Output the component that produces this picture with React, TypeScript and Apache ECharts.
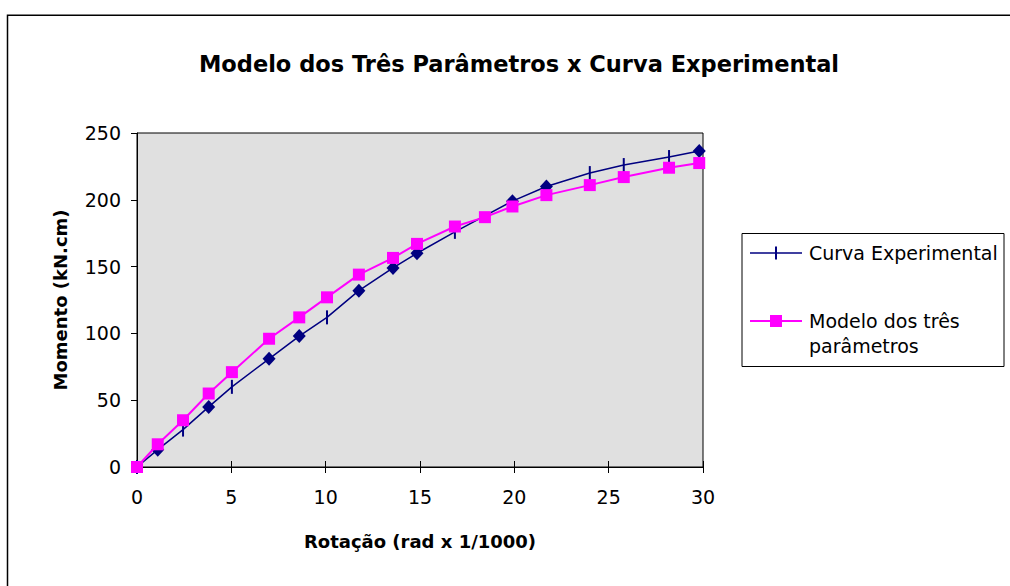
import React, { useEffect, useRef } from "react";
import * as echarts from "echarts";

const title = "Modelo dos Três Parâmetros x Curva Experimental";
const xName = "Rotação (rad x 1/1000)";
const yName = "Momento (kN.cm)";
const expName = "Curva Experimental";
const modelName = "Modelo dos três parâmetros";

// Curva Experimental
const expX = [0, 1.1, 2.44, 3.8, 5.03, 7.0, 8.6, 10.07, 11.76, 13.57, 14.84, 16.85, 19.9, 21.7, 24.0, 25.8, 28.2, 29.8];
const expY = [0, 13, 28, 45, 60, 81, 98, 112, 132, 149, 160, 176, 199, 210, 220, 226, 232, 236.5];
// marker kind per point: d = diamond, t = vertical tick
const expMarker = ["t", "d", "t", "d", "t", "d", "d", "t", "d", "d", "d", "t", "d", "d", "t", "t", "t", "d"];

// Modelo dos três parâmetros
const modelX = [0, 1.1, 2.44, 3.8, 5.03, 7.0, 8.6, 10.07, 11.76, 13.57, 14.84, 16.85, 18.44, 19.9, 21.7, 24.0, 25.8, 28.2, 29.8];
const modelY = [0, 17, 35, 55, 71, 96, 112, 127, 144, 156.5, 167, 180, 187, 195, 203.5, 211, 217, 224, 227.5];

const NAVY = "#000080";
const MAGENTA = "#FF00FF";
const FONT = "'DejaVu Sans', sans-serif";
const TICK_PATH = "path://M0,0h2v12h-2z";

export default function App() {
  const ref = useRef<HTMLDivElement>(null);
  useEffect(() => {
    if (!ref.current) return;
    const chart = echarts.init(ref.current, null, { renderer: "svg" });
    const expData = expX.map((x, i) => [x, expY[i]]);
    const modelData = modelX.map((x, i) => [x, modelY[i]]);
    chart.setOption({
      animation: false,
      backgroundColor: "#fff",
      textStyle: { fontFamily: FONT },
      title: {
        text: title,
        left: 514,
        top: 47,
        textAlign: "center",
        textStyle: { fontSize: 22.5, fontWeight: "bold", color: "#000", fontFamily: FONT },
      },
      grid: {
        left: 137,
        top: 133,
        width: 566,
        height: 334,
        show: true,
        backgroundColor: "#E0E0E0",
        borderColor: "#000",
        borderWidth: 1,
      },
      xAxis: [
        {
          type: "value",
          min: 0,
          max: 30,
          interval: 5,
          name: xName,
          nameLocation: "middle",
          nameGap: 65,
          nameTextStyle: { fontSize: 18, fontWeight: "bold", color: "#000", fontFamily: FONT },
          axisLine: { show: true, onZero: false, lineStyle: { color: "#000", width: 1 } },
          axisTick: { show: true, inside: false, length: 6, lineStyle: { color: "#000" } },
          axisLabel: { fontSize: 19, color: "#000", margin: 20, fontFamily: FONT },
          splitLine: { show: false },
        },
        {
          type: "value",
          position: "bottom",
          min: 0,
          max: 30,
          interval: 5,
          axisLine: { show: false },
          axisTick: { show: true, inside: true, length: 6, lineStyle: { color: "#000" } },
          axisLabel: { show: false },
          splitLine: { show: false },
        },
      ],
      yAxis: {
        type: "value",
        min: 0,
        max: 250,
        interval: 50,
        name: yName,
        nameLocation: "middle",
        nameGap: 68,
        nameRotate: 90,
        nameTextStyle: { fontSize: 18, fontWeight: "bold", color: "#000", fontFamily: FONT },
        axisLine: { show: true, onZero: false, lineStyle: { color: "#000", width: 1 } },
        axisTick: { show: true, inside: false, length: 6, lineStyle: { color: "#000" } },
        axisLabel: { fontSize: 19, color: "#000", margin: 16, fontFamily: FONT },
        splitLine: { show: false },
      },
      series: [
        {
          name: expName,
          type: "line",
          data: expData,
          lineStyle: { color: NAVY, width: 1.5 },
          itemStyle: { color: NAVY },
          symbol: (_v: any, p: any) => (expMarker[p.dataIndex] === "d" ? "diamond" : TICK_PATH),
          symbolSize: (_v: any, p: any) => (expMarker[p.dataIndex] === "d" ? [13, 14] : [2, 14]),
          z: 2,
        },
        {
          name: modelName,
          type: "line",
          data: modelData,
          lineStyle: { color: MAGENTA, width: 2 },
          itemStyle: { color: MAGENTA },
          symbol: "rect",
          symbolSize: 12,
          z: 3,
        },
      ],
      graphic: [
        {
          type: "rect",
          shape: { x: 7.5, y: 15.3, width: 1100, height: 700 },
          style: { fill: "none", stroke: "#000", lineWidth: 1.5 },
          silent: true,
        },
        {
          type: "group",
          children: [
            {
              type: "rect",
              shape: { x: 742, y: 233.5, width: 262, height: 133 },
              style: { fill: "#fff", stroke: "#000", lineWidth: 1 },
            },
            {
              type: "line",
              shape: { x1: 750, y1: 253, x2: 802, y2: 253 },
              style: { stroke: NAVY, lineWidth: 1.5 },
            },
            {
              type: "rect",
              shape: { x: 775, y: 246.5, width: 2, height: 13 },
              style: { fill: NAVY },
            },
            {
              type: "text",
              x: 809,
              y: 253,
              style: { text: expName, font: `19px ${FONT}`, fill: "#000", verticalAlign: "middle" },
            },
            {
              type: "line",
              shape: { x1: 750, y1: 321, x2: 802, y2: 321 },
              style: { stroke: MAGENTA, lineWidth: 2 },
            },
            {
              type: "rect",
              shape: { x: 770, y: 315, width: 12, height: 12 },
              style: { fill: MAGENTA },
            },
            {
              type: "text",
              x: 809,
              y: 321,
              style: { text: "Modelo dos três", font: `19px ${FONT}`, fill: "#000", verticalAlign: "middle" },
            },
            {
              type: "text",
              x: 809,
              y: 346,
              style: { text: "parâmetros", font: `19px ${FONT}`, fill: "#000", verticalAlign: "middle" },
            },
          ],
        },
      ],
    });
    return () => chart.dispose();
  }, []);
  return (
    <div
      ref={ref}
      style={{ position: "absolute", left: 0, top: 0, width: 1010, height: 586 }}
    />
  );
}
